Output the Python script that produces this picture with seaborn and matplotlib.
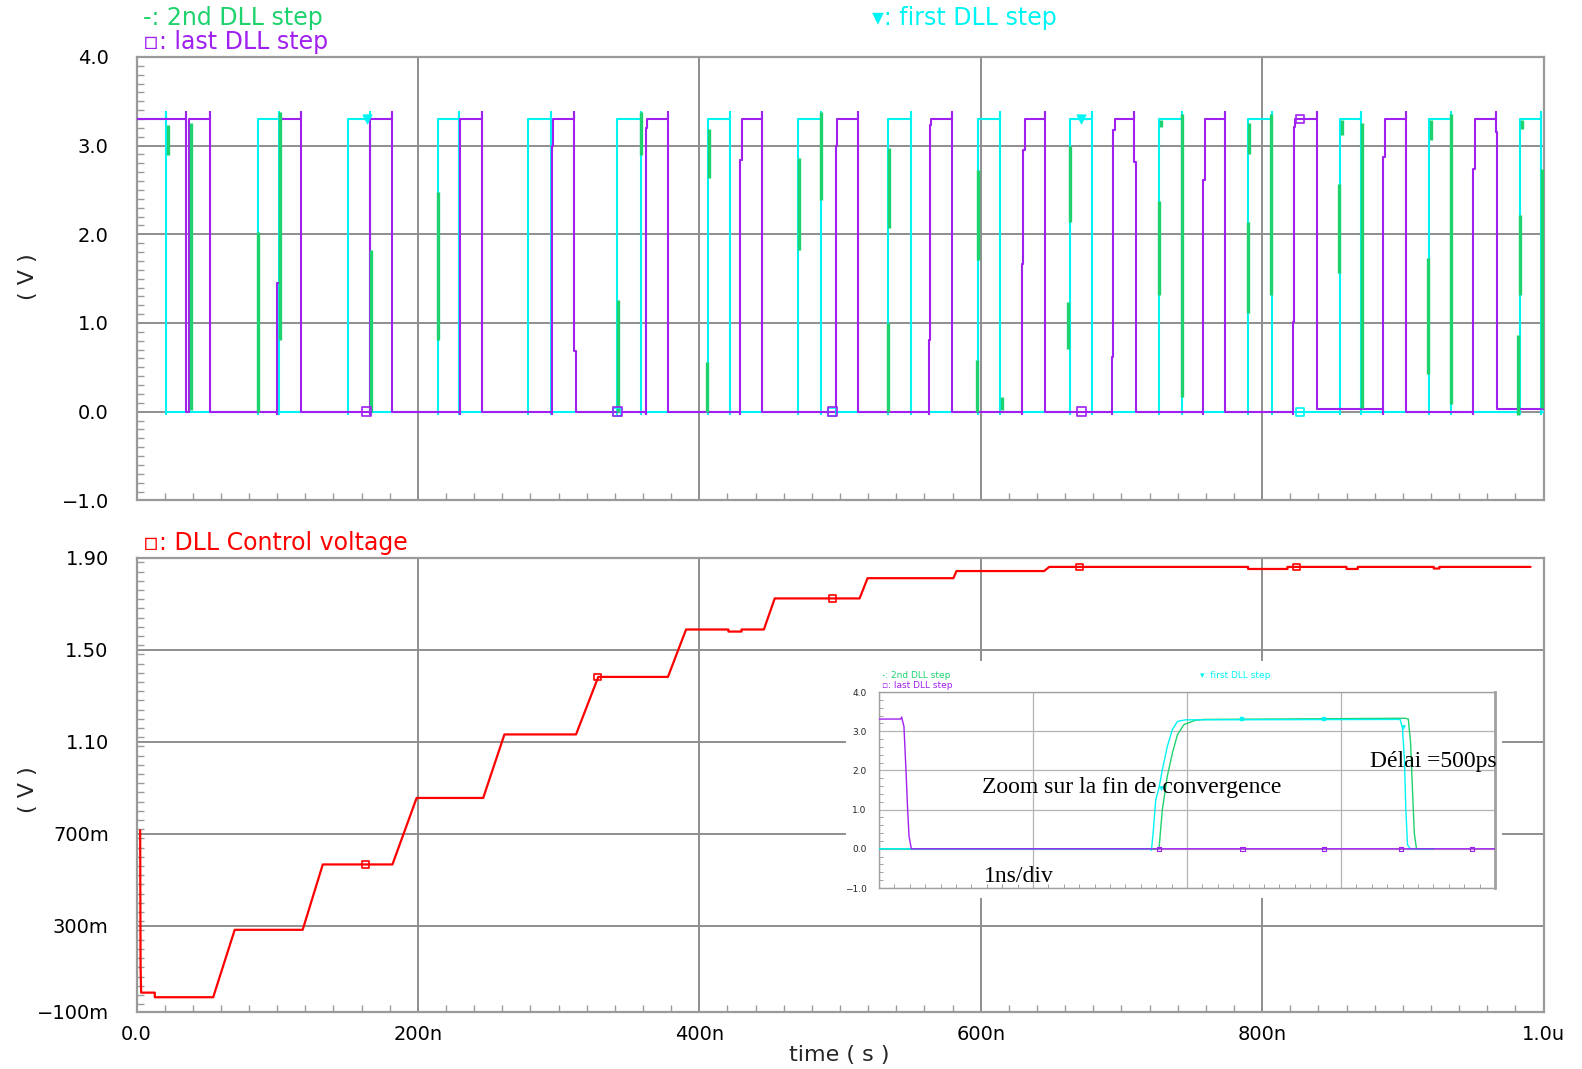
import matplotlib
matplotlib.use("Agg")
import matplotlib.pyplot as plt
import seaborn as sns
import pandas as pd
from matplotlib.ticker import MultipleLocator, FixedLocator, FixedFormatter, NullFormatter

sns.set_style("white")
plt.rcParams['font.family'] = ['DejaVu Sans']

# ------------------------------------------------------------------ data
# top panel : time in ns, level in volts
HI, LO = 3.3, 0.0
OVER, UNDER = 3.38, -0.03

cyan_rise = [0.0, 86.1, 150.1, 214.3, 278.0, 341.7, 406.4, 470.4, 534.3,
             598.3, 663.7, 726.5, 790.2, 855.4, 918.8, 983.3]
cyan_fall = [21.0, 101.0, 165.9, 229.4, 294.6, 358.3, 421.8, 486.3, 550.5,
             613.7, 678.9, 742.8, 806.8, 870.0, 934.3, 998.2]

# last DLL step : step breakpoints (value holds from t until next t)
purple_t = [0.0, 35.5, 35.5, 37.0, 52.2, 52.2,
            100.1, 100.1, 102.0, 116.9, 116.9,
            165.9, 165.9, 181.6, 181.6,
            230.2, 230.2, 245.9, 245.9,
            295.3, 295.3, 296.0, 311.2, 311.2, 312.4,
            362.1, 362.1, 363.0, 378.0, 378.0,
            428.9, 428.9, 430.1, 444.8, 444.8,
            497.2, 497.2, 497.9, 513.0, 513.0,
            563.3, 563.3, 564.0, 564.9, 579.4, 579.4,
            629.1, 629.1, 630.3, 631.5, 645.7, 645.7,
            693.5, 693.5, 694.2, 695.4, 709.2, 709.2, 710.4,
            758.2, 758.2, 759.4, 773.6, 773.6,
            821.7, 821.7, 822.6, 823.4, 838.8, 838.8,
            886.1, 886.1, 887.4, 902.3, 902.3,
            950.1, 950.1, 951.3, 966.0, 966.0, 966.8, 1000.0]
purple_v = [3.3, 3.38, 0.0, 3.3, 3.38, 0.0,
            -0.03, 1.45, 3.3, 3.38, 0.0,
            -0.03, 3.3, 3.38, 0.0,
            -0.03, 3.3, 3.38, 0.0,
            -0.03, 2.99, 3.3, 3.38, 0.68, 0.0,
            -0.03, 3.2, 3.3, 3.38, 0.0,
            -0.03, 2.84, 3.3, 3.38, 0.0,
            -0.03, 3.0, 3.3, 3.38, 0.0,
            -0.03, 0.81, 3.23, 3.3, 3.38, 0.0,
            -0.03, 1.67, 2.95, 3.3, 3.38, 0.0,
            -0.03, 0.62, 3.18, 3.3, 3.38, 2.82, 0.0,
            -0.03, 2.61, 3.3, 3.38, 0.0,
            -0.03, 1.01, 3.21, 3.3, 3.38, 0.03,
            -0.03, 2.87, 3.3, 3.38, 0.0,
            -0.03, 2.74, 3.3, 3.38, 3.15, 0.03, 0.03]

# 2nd DLL step : visible edge fragments (time, low, high)
green_t = [22.6, 38.5, 86.1, 102.0, 166.4, 214.5, 342.2, 358.3, 405.7, 407.1,
           470.9, 486.3, 533.9, 535.0, 597.4, 598.3, 614.9, 662.3, 663.5,
           727.0, 728.1, 742.8, 790.2, 790.9, 806.1, 854.9, 856.6, 870.8,
           918.1, 920.0, 934.3, 982.1, 983.3, 984.5, 999.1]
green_lo = [2.89, 0.02, 0.0, 0.81, 0.0, 0.81, 0.0, 2.89, 0.0, 2.63,
            1.82, 2.39, 0.0, 2.07, 0.0, 1.71, 0.02, 0.71, 2.14,
            1.32, 3.21, 0.17, 1.11, 2.91, 1.32, 1.56, 3.12, 0.04,
            0.43, 3.06, 0.09, -0.04, 1.32, 3.19, 0.04]
green_hi = [3.23, 3.25, 2.03, 3.38, 1.82, 2.48, 1.26, 3.38, 0.56, 3.19,
            2.86, 3.38, 1.0, 2.97, 0.58, 2.72, 0.17, 1.24, 3.0,
            2.37, 3.29, 3.36, 2.14, 3.25, 3.36, 2.57, 3.29, 3.25,
            1.73, 3.29, 3.36, 0.86, 2.22, 3.29, 2.74]

cyan_mk_t = [163.5, 671.0]
cyan_mk_v = [3.3, 3.3]
purple_mk_t = [163.7, 341.7, 494.5, 671.8, 826.9]
purple_mk_v = [0.0, 0.0, 0.0, 0.0, 3.3]
cyanbox_mk_t = [341.7, 494.5, 826.9]
cyanbox_mk_v = [0.0, 0.0, 0.0]

# bottom panel : DLL control voltage
red_t = [2.6, 2.9, 3.3, 13.0, 13.0, 54.5, 69.8, 118.1, 132.4, 181.9, 199.1,
         246.4, 261.5, 312.4, 328.2, 377.7, 390.6, 420.7, 420.7, 430.0, 430.0,
         445.9, 453.6, 513.9, 519.6, 580.6, 582.8, 645.1, 648.7, 790.0, 790.0,
         818.0, 818.0, 860.0, 860.0, 868.0, 868.0, 922.0, 922.0, 926.0, 926.0,
         990.8]
red_v = [0.716, 0.12, 0.01, 0.01, -0.01, -0.01, 0.283, 0.283, 0.567, 0.567, 0.856,
         0.856, 1.132, 1.132, 1.382, 1.382, 1.588, 1.588, 1.579, 1.579, 1.588,
         1.588, 1.723, 1.723, 1.811, 1.811, 1.842, 1.842, 1.86, 1.86, 1.851,
         1.851, 1.86, 1.86, 1.851, 1.851, 1.86, 1.86, 1.853, 1.853, 1.86,
         1.86]
red_mk_t = [162.6, 327.5, 494.5, 670.2, 824.3]
red_mk_v = [0.567, 1.382, 1.723, 1.86, 1.86]

top_yticks = [-1.0, 0.0, 1.0, 2.0, 3.0, 4.0]
top_ylabels = ["\u22121.0", "0.0", "1.0", "2.0", "3.0", "4.0"]
bot_yticks = [-0.072, 0.3, 0.7, 1.1, 1.5, 1.9]
bot_ylabels = ["\u2212100m", "300m", "700m", "1.10", "1.50", "1.90"]
xticks = [0, 200, 400, 600, 800, 1000]
xlabels = ["0.0", "200n", "400n", "600n", "800n", "1.0u"]

# inset : zoom on the end of convergence (ns, volts)
in_purple_t = [0.0, 0.14, 0.147, 0.162, 0.175, 0.186, 0.195, 0.21, 4.0]
in_purple_v = [3.31, 3.31, 3.36, 3.12, 2.02, 1.0, 0.32, 0.0, 0.0]
in_cyan_t = [0.0, 1.76, 1.769, 1.78, 1.797, 1.818, 1.84, 1.872, 1.905, 1.938,
             1.99, 3.384, 3.399, 3.412, 3.421, 3.432, 3.45, 3.6]
in_cyan_v = [0.0, 0.0, -0.04, 0.4, 1.25, 1.55, 2.02, 2.61, 3.04, 3.25,
             3.29, 3.3, 3.08, 2.27, 1.0, 0.1, 0.0, 0.0]
in_green_t = [0.0, 1.818, 1.84, 1.872, 1.905, 1.938, 1.98, 2.056, 2.11,
              3.416, 3.437, 3.452, 3.465, 3.476, 3.49, 3.6]
in_green_v = [0.0, 0.0, 1.0, 1.85, 2.44, 2.91, 3.17, 3.28, 3.3,
              3.33, 3.31, 2.7, 1.42, 0.4, 0.0, 0.0]
in_cyan_mk_t = [2.36, 2.89]
in_cyan_mk_v = [3.3, 3.3]
in_tri_t = [1.83, 3.40]
in_tri_v = [1.55, 3.1]
in_purple_mk_t = [1.82, 2.36, 2.89, 3.39, 3.85]
in_purple_mk_v = [0.0, 0.0, 0.0, 0.0, 0.0]

# ------------------------------------------------------------------ style
CYAN = "#00F4F4"
PURPLE = "#A020F0"
GREEN = "#1ED26E"
RED = "#FF0000"
GRID = "#8e8e8e"
SPINE = "#9a9a9a"
W, H = 1582, 1069


def fx(px):
    return px / W


def fy(py):
    return 1 - py / H


def cyan_path(rises, falls):
    t, v = [], []
    for r, f in zip(rises, falls):
        if r <= 0:
            t += [0.0]
            v += [HI]
        else:
            t += [r, r]
            v += [UNDER, HI]
        t += [f, f, f]
        v += [OVER, UNDER, LO]
    t.append(1000.0)
    v.append(LO)
    return pd.DataFrame({"t": t, "v": v})


fig = plt.figure(figsize=(W / 100, H / 100), dpi=100)

ax1 = fig.add_axes([fx(136.5), fy(500.4), fx(1543.5) - fx(136.5), fy(56.9) - fy(500.4)])
ax2 = fig.add_axes([fx(136.5), fy(1011.5), fx(1543.5) - fx(136.5), fy(557.7) - fy(1011.5)])


def style_axes(ax, yticks, ylabels, yminor, show_x):
    ax.set_xlim(0, 1000)
    ax.xaxis.set_major_locator(FixedLocator(xticks))
    ax.xaxis.set_minor_locator(MultipleLocator(20))
    ax.yaxis.set_major_locator(FixedLocator(yticks))
    ax.yaxis.set_major_formatter(FixedFormatter(ylabels))
    ax.yaxis.set_minor_locator(MultipleLocator(yminor))
    if show_x:
        ax.xaxis.set_major_formatter(FixedFormatter(xlabels))
    else:
        ax.xaxis.set_major_formatter(NullFormatter())
    ax.grid(True, which="major", color=GRID, lw=1.4, zorder=0)
    ax.set_axisbelow(True)
    for s in ax.spines.values():
        s.set_color(SPINE)
        s.set_linewidth(1.6)
        s.set_visible(True)
    ax.tick_params(which="major", length=0, labelsize=14, pad=20, labelcolor="black")
    ax.tick_params(which="minor", direction="in", length=5, width=1.0, color=SPINE,
                   left=True, bottom=True, top=False, right=False)
    ax.set_xlabel("")
    ax.set_ylabel("")


# ---------------- top panel
cy = cyan_path(cyan_rise, cyan_fall)
sns.lineplot(data=cy, x="t", y="v", ax=ax1, sort=False, estimator=None,
             drawstyle="steps-post", color=CYAN, lw=1.5, zorder=3)
pu = pd.DataFrame({"t": purple_t, "v": purple_v})
sns.lineplot(data=pu, x="t", y="v", ax=ax1, sort=False, estimator=None,
             drawstyle="steps-post", color=PURPLE, lw=1.5, zorder=4)
ax1.vlines(green_t, green_lo, green_hi, color=GREEN, lw=2.4, zorder=5)
sns.scatterplot(x=cyan_mk_t, y=cyan_mk_v, ax=ax1, marker="v", s=45, color=CYAN,
                edgecolor=CYAN, zorder=6)
sns.scatterplot(x=cyanbox_mk_t, y=cyanbox_mk_v, ax=ax1, marker="s", s=30,
                facecolor="none", edgecolor=CYAN, linewidth=1.2, zorder=6)
sns.scatterplot(x=purple_mk_t, y=purple_mk_v, ax=ax1, marker="s", s=40,
                facecolor="none", edgecolor=PURPLE, linewidth=1.2, zorder=7)
ax1.set_ylim(-1, 4)
style_axes(ax1, top_yticks, top_ylabels, 0.1, False)

# ---------------- bottom panel
rd = pd.DataFrame({"t": red_t, "v": red_v})
sns.lineplot(data=rd, x="t", y="v", ax=ax2, sort=False, estimator=None,
             color=RED, lw=1.6, zorder=3)
sns.scatterplot(x=red_mk_t, y=red_mk_v, ax=ax2, marker="s", s=22,
                facecolor="none", edgecolor=RED, linewidth=1.2, zorder=4)
ax2.set_ylim(-0.072, 1.9)
style_axes(ax2, bot_yticks, bot_ylabels, 0.04, True)
ax2.tick_params(axis="x", which="major", pad=10)

# ---------------- inset (white backing + zoomed plot)
bg = fig.add_axes([fx(846), fy(898), fx(1502) - fx(846), fy(661) - fy(898)], zorder=5)
bg.set_facecolor("white")
bg.set_xticks([])
bg.set_yticks([])
for s in bg.spines.values():
    s.set_visible(False)

axi = fig.add_axes([fx(879), fy(888), fx(1495) - fx(879), fy(692) - fy(888)], zorder=6)
sns.lineplot(x=in_green_t, y=in_green_v, ax=axi, sort=False, estimator=None,
             color=GREEN, lw=1.0, zorder=3)
sns.lineplot(x=in_cyan_t, y=in_cyan_v, ax=axi, sort=False, estimator=None,
             color=CYAN, lw=1.0, zorder=4)
sns.lineplot(x=in_purple_t, y=in_purple_v, ax=axi, sort=False, estimator=None,
             color=PURPLE, lw=1.0, zorder=5)
sns.scatterplot(x=in_cyan_mk_t, y=in_cyan_mk_v, ax=axi, marker="s", s=8,
                color=CYAN, edgecolor=CYAN, zorder=6)
sns.scatterplot(x=in_tri_t, y=in_tri_v, ax=axi, marker="v", s=10,
                color=CYAN, edgecolor=CYAN, zorder=6)
sns.scatterplot(x=in_purple_mk_t, y=in_purple_mk_v, ax=axi, marker="s", s=9,
                facecolor="none", edgecolor=PURPLE, linewidth=0.8, zorder=7)
axi.set_xlim(0, 4)
axi.set_ylim(-1, 4)
axi.xaxis.set_major_locator(FixedLocator([0, 1, 2, 3, 4]))
axi.xaxis.set_major_formatter(NullFormatter())
axi.xaxis.set_minor_locator(MultipleLocator(0.1))
axi.yaxis.set_major_locator(FixedLocator(top_yticks))
axi.yaxis.set_major_formatter(FixedFormatter(top_ylabels))
axi.yaxis.set_minor_locator(MultipleLocator(0.2))
axi.grid(True, which="major", color="#b4b4b4", lw=0.9)
axi.set_axisbelow(True)
for s in axi.spines.values():
    s.set_color("#a0a0a0")
    s.set_linewidth(1.0)
axi.spines["right"].set_linewidth(2.0)
axi.tick_params(which="major", length=0, labelsize=6.5, pad=9)
axi.tick_params(which="minor", direction="in", length=3, width=0.7, color="#a0a0a0",
                left=True, bottom=True)
axi.set_xlabel("")
axi.set_ylabel("")

# ---------------- texts
mono = dict(fontsize=17)
fig.text(fx(143), fy(18), "-: 2nd DLL step", color=GREEN, va="center", ha="left", **mono)
fig.text(fx(143), fy(42), "\u25ab: last DLL step", color=PURPLE, va="center", ha="left", **mono)
fig.text(fx(872), fy(18), "\u25be: first DLL step", color=CYAN, va="center", ha="left", **mono)
fig.text(fx(143), fy(543), "\u25ab: DLL Control voltage", color=RED, va="center", ha="left", **mono)

fig.text(fx(28), fy(277), "( V )", rotation=90, va="center", ha="center", fontsize=16)
fig.text(fx(28), fy(790), "( V )", rotation=90, va="center", ha="center", fontsize=16)
fig.text(fx(839), fy(1055), "time ( s )", va="center", ha="center", fontsize=16)

small = dict(fontsize=6.5, zorder=10)
fig.text(fx(882), fy(676), "-: 2nd DLL step", color=GREEN, va="center", ha="left", **small)
fig.text(fx(882), fy(686), "\u25ab: last DLL step", color=PURPLE, va="center", ha="left", **small)
fig.text(fx(1200), fy(676), "\u25be: first DLL step", color=CYAN, va="center", ha="left", **small)

serif = dict(family=["Liberation Serif", "DejaVu Serif"], fontsize=17, color="black", zorder=10)
fig.text(fx(982), fy(787), "Zoom sur la fin de convergence", va="center", ha="left", **serif)
fig.text(fx(984), fy(876), "1ns/div", va="center", ha="left", **serif)
fig.text(fx(1370), fy(762), "Délai =500ps", va="center", ha="left", **serif)

fig.savefig("out.png", dpi=100)
